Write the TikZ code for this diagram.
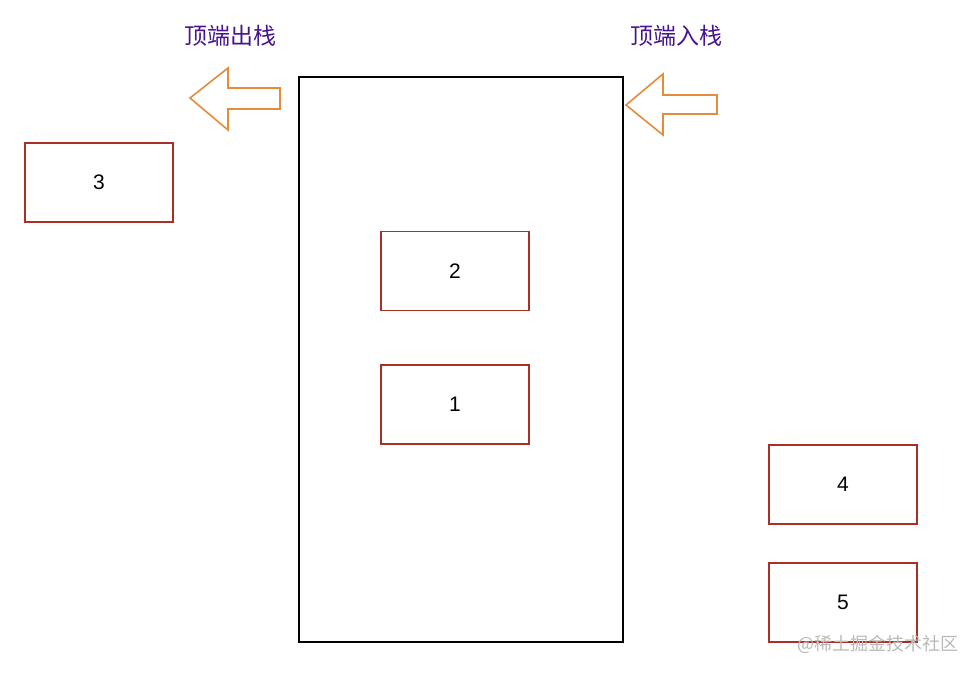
\documentclass[tikz,border=0pt]{standalone}
\usepackage{fontspec}
\setmainfont{Liberation Sans}
\newfontfamily\cjk{Noto Sans CJK SC}
\definecolor{boxred}{RGB}{168,48,38}
\definecolor{arroworange}{RGB}{228,140,60}
\definecolor{labelpurple}{RGB}{70,20,140}
\definecolor{wmgray}{RGB}{185,185,185}
\begin{document}
\begin{tikzpicture}[x=1pt,y=-1pt,
  itembox/.style={draw=boxred,line width=1.6pt,minimum width=148pt,minimum height=79pt,inner sep=0pt,font=\fontsize{21}{24}\selectfont},
  hollowarrow/.style={draw=arroworange,line width=1.6pt,line join=miter},
  toplabel/.style={text=labelpurple,font=\cjk\fontsize{23}{27}\selectfont,inner sep=0pt}]
\useasboundingbox (0,0) rectangle (978,674);
\node[draw=black,line width=1.6pt,minimum width=324pt,minimum height=565pt,inner sep=0pt] (stack) at (461,359.5) {};
\node[itembox] (b3) at (99,182.5) {\raisebox{-1.5pt}{3}};
\node[itembox] (b2) at (455,271) {\raisebox{-1.5pt}{2}};
\node[itembox] (b1) at (455,404.5) {\raisebox{-1.5pt}{1}};
\node[itembox] (b4) at (843,484.5) {\raisebox{-1.5pt}{4}};
\node[itembox] (b5) at (843,602.5) {\raisebox{-1.5pt}{5}};
\node[toplabel] (lout) at (230,36) {顶端出栈};
\node[toplabel] (lin) at (676,36) {顶端入栈};
\draw[hollowarrow] (190,98) -- (228,68) -- (228,88) -- (280,88) -- (280,109) -- (228,109) -- (228,130) -- cycle;
\draw[hollowarrow] (626,105) -- (663,74) -- (663,95) -- (717,95) -- (717,114) -- (663,114) -- (663,135) -- cycle;
\node[text=wmgray,font=\cjk\fontsize{18}{20}\selectfont,inner sep=0pt,anchor=east] (wm) at (959,644) {@稀土掘金技术社区};
\end{tikzpicture}
\end{document}
